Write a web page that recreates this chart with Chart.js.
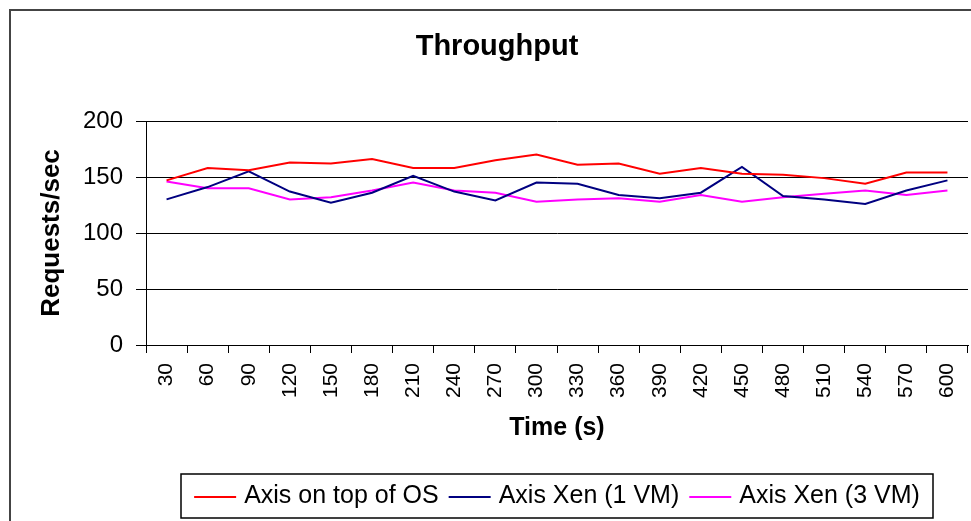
<!DOCTYPE html>
<html>
<head>
<meta charset="utf-8">
<script src="https://cdn.jsdelivr.net/npm/chart.js@4/dist/chart.umd.min.js"></script>
<style>
  html, body { margin: 0; padding: 0; background: #fff; }
  #wrap { width: 971px; height: 521px; }
</style>
</head>
<body>
<div id="wrap"><canvas id="c" width="971" height="521"></canvas></div>
<script>
const categories = ['30','60','90','120','150','180','210','240','270','300','330','360','390','420','450','480','510','540','570','600'];
const axisOnOS = [147, 158, 156, 163, 162, 166, 158, 158, 165, 170, 161, 162, 153, 158, 153, 152, 149, 144, 154, 154];
const axisXen1 = [130, 141, 155, 137, 127, 136, 151, 137, 129, 145, 144, 134, 131, 136, 159, 133, 130, 126, 138, 147];
const axisXen3 = [146, 140, 140, 130, 132, 138, 145, 138, 136, 128, 130, 131, 128, 134, 128, 132, 135, 138, 134, 138];
const seriesNames = ['Axis on top of OS', 'Axis Xen (1 VM)', 'Axis Xen (3 VM)'];
const seriesColors = ['#FF0000', '#000080', '#FF00FF'];
const yMin = 0, yMax = 200, yStep = 50;

const FONT = "'Liberation Sans', Arial, sans-serif";

const framePlugin = {
  id: 'frame',
  beforeDraw(chart) {
    const ctx = chart.ctx;
    ctx.save();
    ctx.fillStyle = '#fff';
    ctx.fillRect(0, 0, chart.width, chart.height);
    ctx.strokeStyle = '#444';
    ctx.lineWidth = 2;
    ctx.strokeRect(10, 10, 2000, 2000);
    ctx.restore();
  }
};

const legendPlugin = {
  id: 'boxLegend',
  afterDraw(chart) {
    const ctx = chart.ctx;
    ctx.save();
    const boxL = 181, boxR = 933, boxT = 474, boxB = 518;
    ctx.strokeStyle = '#000';
    ctx.lineWidth = 1.5;
    ctx.strokeRect(boxL, boxT, boxR - boxL, boxB - boxT);
    ctx.font = '25px ' + FONT;
    ctx.textBaseline = 'middle';
    ctx.textAlign = 'left';
    const lineLen = 42, gap1 = 8, gap2 = 10;
    const ds = chart.data.datasets;
    let total = 0;
    ds.forEach((d, i) => {
      total += lineLen + gap1 + ctx.measureText(d.label).width;
      if (i < ds.length - 1) total += gap2;
    });
    let x = (boxL + boxR) / 2 - total / 2;
    const y = (boxT + boxB) / 2;
    ds.forEach((d) => {
      ctx.strokeStyle = d.borderColor;
      ctx.lineWidth = 2;
      ctx.beginPath();
      ctx.moveTo(x, y + 1);
      ctx.lineTo(x + lineLen, y + 1);
      ctx.stroke();
      x += lineLen + gap1;
      ctx.fillStyle = '#000';
      ctx.fillText(d.label, x, y);
      x += ctx.measureText(d.label).width + gap2;
    });
    ctx.restore();
  }
};

const datasets = [axisOnOS, axisXen1, axisXen3].map((vals, i) => ({
  label: seriesNames[i],
  data: vals,
  borderColor: seriesColors[i],
  backgroundColor: seriesColors[i],
  borderWidth: 2,
  pointRadius: 0,
  tension: 0,
  fill: false
}));

new Chart(document.getElementById('c'), {
  type: 'line',
  data: { labels: categories, datasets },
  plugins: [framePlugin, legendPlugin],
  options: {
    responsive: false,
    animation: false,
    layout: { padding: { left: 26, right: 3, top: 10, bottom: 61 } },
    plugins: {
      legend: { display: false },
      tooltip: { enabled: false },
      title: {
        display: true,
        text: 'Throughput',
        color: '#000',
        font: { family: FONT, size: 29, weight: 'bold' },
        padding: { top: 20, bottom: 56.2 }
      }
    },
    scales: {
      x: {
        type: 'category',
        offset: true,
        afterFit(scale) { scale.height = 115; scale.paddingLeft = 0; scale.paddingRight = 0; },
        grid: {
          display: true,
          drawOnChartArea: false,
          drawTicks: true,
          tickLength: 8,
          offset: true,
          color: '#000',
          tickColor: '#000',
          lineWidth: 1
        },
        border: { display: true, color: '#000', width: 1 },
        ticks: {
          color: '#000',
          font: { family: FONT, size: 21 },
          maxRotation: 90,
          minRotation: 90,
          autoSkip: false,
          padding: 10
        },
        title: {
          display: true,
          text: 'Time (s)',
          color: '#000',
          font: { family: FONT, size: 25, weight: 'bold' },
          padding: { top: 0, bottom: 17 }
        }
      },
      y: {
        min: yMin,
        max: yMax,
        afterFit(scale) { scale.width = 120; },
        grid: {
          display: true,
          drawOnChartArea: true,
          drawTicks: true,
          tickLength: 10,
          color: '#000',
          tickColor: '#000',
          lineWidth: 1
        },
        border: { display: true, color: '#000', width: 1 },
        ticks: {
          stepSize: yStep,
          color: '#000',
          font: { family: FONT, size: 24 },
          padding: 13
        },
        title: {
          display: true,
          text: 'Requests/sec',
          color: '#000',
          font: { family: FONT, size: 26, weight: 'bold' },
          padding: { top: 10.4, bottom: 0 }
        }
      }
    }
  }
});
</script>
</body>
</html>
